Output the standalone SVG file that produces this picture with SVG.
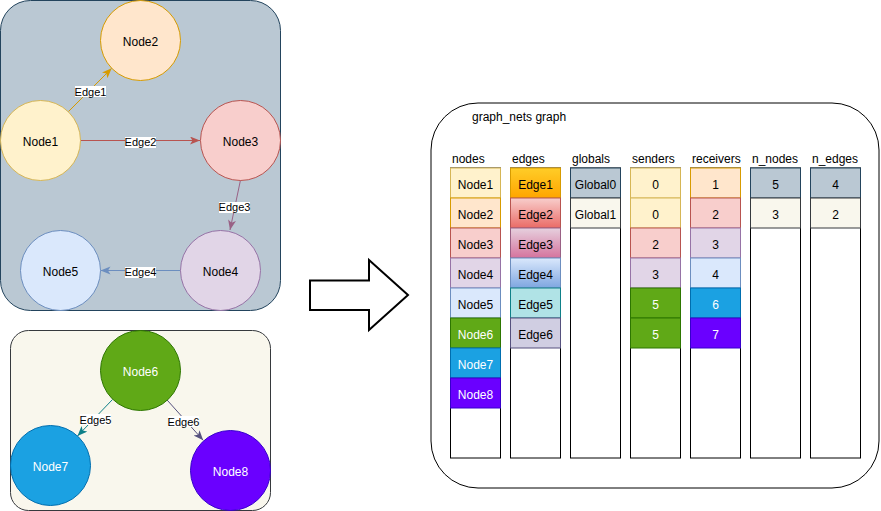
<svg xmlns="http://www.w3.org/2000/svg" width="881" height="511" viewBox="0 0 881 511">
<style>
text{font-family:"Liberation Sans",Arial,sans-serif;font-size:12px;fill:#000}
.c{text-anchor:middle}
.w{fill:#fff}
.el{font-size:11px;text-anchor:middle}
.lb{fill:#fff}
.e{fill:none;stroke-width:1}
.col{fill:#fff;stroke:#000;stroke-width:1}
</style>
<defs>
<linearGradient id="g1" x1="0" y1="0" x2="0" y2="1"><stop offset="0" stop-color="#ffcd28"/><stop offset="1" stop-color="#ffa500"/></linearGradient>
<linearGradient id="g2" x1="0" y1="0" x2="0" y2="1"><stop offset="0" stop-color="#f8cecc"/><stop offset="1" stop-color="#ea6b66"/></linearGradient>
<linearGradient id="g3" x1="0" y1="0" x2="0" y2="1"><stop offset="0" stop-color="#e6d0de"/><stop offset="1" stop-color="#d5739d"/></linearGradient>
<linearGradient id="g4" x1="0" y1="0" x2="0" y2="1"><stop offset="0" stop-color="#dae8fc"/><stop offset="1" stop-color="#7ea6e0"/></linearGradient>
<marker id="m1" markerUnits="userSpaceOnUse" markerWidth="11" markerHeight="9" refX="10" refY="4" orient="auto"><path d="M0,0 L10,4 L0,8 L2.5,4 z" fill="#d79b00"/></marker>
<marker id="m2" markerUnits="userSpaceOnUse" markerWidth="11" markerHeight="9" refX="10" refY="4" orient="auto"><path d="M0,0 L10,4 L0,8 L2.5,4 z" fill="#b85450"/></marker>
<marker id="m3" markerUnits="userSpaceOnUse" markerWidth="11" markerHeight="9" refX="10" refY="4" orient="auto"><path d="M0,0 L10,4 L0,8 L2.5,4 z" fill="#996185"/></marker>
<marker id="m4" markerUnits="userSpaceOnUse" markerWidth="11" markerHeight="9" refX="10" refY="4" orient="auto"><path d="M0,0 L10,4 L0,8 L2.5,4 z" fill="#6c8ebf"/></marker>
<marker id="m5" markerUnits="userSpaceOnUse" markerWidth="11" markerHeight="9" refX="10" refY="4" orient="auto"><path d="M0,0 L10,4 L0,8 L2.5,4 z" fill="#0e8088"/></marker>
<marker id="m6" markerUnits="userSpaceOnUse" markerWidth="11" markerHeight="9" refX="10" refY="4" orient="auto"><path d="M0,0 L10,4 L0,8 L2.5,4 z" fill="#56517e"/></marker>
</defs>

<g id="graph1">
<rect x="0.5" y="0.5" width="280" height="310" rx="30" fill="#bac8d3" stroke="#23445d"/>
</g>
<g id="graph2">
<rect x="10.5" y="330.5" width="260" height="180" rx="18" fill="#f9f7ed" stroke="#36393d"/>
</g>

<g id="connectors">
<line class="e" x1="68.3" y1="111.7" x2="111.7" y2="68.3" stroke="#d79b00" marker-end="url(#m1)"/>
<line class="e" x1="80" y1="140.5" x2="200" y2="140.5" stroke="#b85450" marker-end="url(#m2)"/>
<line class="e" x1="240.5" y1="180" x2="230" y2="230" stroke="#996185" marker-end="url(#m3)"/>
<line class="e" x1="180.5" y1="270.5" x2="100.5" y2="270.5" stroke="#6c8ebf" marker-end="url(#m4)"/>
<line class="e" x1="112.5" y1="399.5" x2="77.5" y2="436" stroke="#0e8088" marker-end="url(#m5)"/>
<line class="e" x1="166.8" y1="399.7" x2="203.2" y2="440.3" stroke="#56517e" marker-end="url(#m6)"/>
<rect class="lb" x="75" y="86" width="31" height="11"/><text class="el" x="90.5" y="95.5">Edge1</text>
<rect class="lb" x="125" y="137" width="31" height="11"/><text class="el" x="140.5" y="146">Edge2</text>
<rect class="lb" x="219" y="202" width="31" height="11"/><text class="el" x="234.5" y="211">Edge3</text>
<rect class="lb" x="125" y="267" width="31" height="11"/><text class="el" x="140.5" y="276">Edge4</text>
<rect class="lb" x="80" y="414" width="31" height="11"/><text class="el" x="95.5" y="423.5">Edge5</text>
<rect class="lb" x="168" y="416" width="31" height="11"/><text class="el" x="183.5" y="425.5">Edge6</text>
</g>

<g id="node1"><circle cx="40.5" cy="140.5" r="40" fill="#fff2cc" stroke="#d6b656"/><text class="c" x="40.5" y="146">Node1</text></g>
<g id="node2"><circle cx="140.5" cy="40.5" r="40" fill="#ffe6cc" stroke="#d79b00"/><text class="c" x="140.5" y="46">Node2</text></g>
<g id="node3"><circle cx="240.5" cy="140.5" r="40" fill="#f8cecc" stroke="#b85450"/><text class="c" x="240.5" y="146">Node3</text></g>
<g id="node4"><circle cx="220.5" cy="270.5" r="40" fill="#e1d5e7" stroke="#9673a6"/><text class="c" x="220.5" y="276">Node4</text></g>
<g id="node5"><circle cx="60.5" cy="270.5" r="40" fill="#dae8fc" stroke="#6c8ebf"/><text class="c" x="60.5" y="276">Node5</text></g>
<g id="node6"><circle cx="140.5" cy="370.5" r="40" fill="#60a917" stroke="#2d7600"/><text class="c w" x="140.5" y="376">Node6</text></g>
<g id="node7"><circle cx="50.5" cy="465.5" r="40" fill="#1ba1e2" stroke="#006eaf"/><text class="c w" x="50.5" y="471">Node7</text></g>
<g id="node8"><circle cx="230.5" cy="470.5" r="40" fill="#6a00ff" stroke="#3700cc"/><text class="c w" x="230.5" y="476">Node8</text></g>

<g id="arrow">
<polygon points="310,280.5 369,280.5 369,260 408,295 369,330 369,310 310,310" fill="#fff" stroke="#000" stroke-width="2"/>
</g>

<g id="graphnets">
<rect x="431" y="103" width="448" height="385" rx="47" fill="#fff" stroke="#000"/>
<text x="472" y="121">graph_nets graph</text>
<text x="452" y="163">nodes</text>
<text x="512" y="163">edges</text>
<text x="572" y="163">globals</text>
<text x="632" y="163">senders</text>
<text x="692" y="163">receivers</text>
<text x="752" y="163">n_nodes</text>
<text x="812" y="163">n_edges</text>
</g>

<g id="col-nodes">
<rect class="col" x="450.5" y="168" width="50" height="290"/>
<rect x="450.5" y="168" width="50" height="30" fill="#fff2cc" stroke="#d6b656"/><text class="c" x="475.5" y="189">Node1</text>
<rect x="450.5" y="198" width="50" height="30" fill="#ffe6cc" stroke="#d79b00"/><text class="c" x="475.5" y="219">Node2</text>
<rect x="450.5" y="228" width="50" height="30" fill="#f8cecc" stroke="#b85450"/><text class="c" x="475.5" y="249">Node3</text>
<rect x="450.5" y="258" width="50" height="30" fill="#e1d5e7" stroke="#9673a6"/><text class="c" x="475.5" y="279">Node4</text>
<rect x="450.5" y="288" width="50" height="30" fill="#dae8fc" stroke="#6c8ebf"/><text class="c" x="475.5" y="309">Node5</text>
<rect x="450.5" y="318" width="50" height="30" fill="#60a917" stroke="#2d7600"/><text class="c w" x="475.5" y="339">Node6</text>
<rect x="450.5" y="348" width="50" height="30" fill="#1ba1e2" stroke="#006eaf"/><text class="c w" x="475.5" y="369">Node7</text>
<rect x="450.5" y="378" width="50" height="30" fill="#6a00ff" stroke="#3700cc"/><text class="c w" x="475.5" y="399">Node8</text>
</g>

<g id="col-edges">
<rect class="col" x="510.5" y="168" width="50" height="290"/>
<rect x="510.5" y="168" width="50" height="30" fill="url(#g1)" stroke="#d79b00"/><text class="c" x="535.5" y="189">Edge1</text>
<rect x="510.5" y="198" width="50" height="30" fill="url(#g2)" stroke="#b85450"/><text class="c" x="535.5" y="219">Edge2</text>
<rect x="510.5" y="228" width="50" height="30" fill="url(#g3)" stroke="#996185"/><text class="c" x="535.5" y="249">Edge3</text>
<rect x="510.5" y="258" width="50" height="30" fill="url(#g4)" stroke="#6c8ebf"/><text class="c" x="535.5" y="279">Edge4</text>
<rect x="510.5" y="288" width="50" height="30" fill="#b0e3e6" stroke="#0e8088"/><text class="c" x="535.5" y="309">Edge5</text>
<rect x="510.5" y="318" width="50" height="30" fill="#d0cee2" stroke="#56517e"/><text class="c" x="535.5" y="339">Edge6</text>
</g>

<g id="col-globals">
<rect class="col" x="570.5" y="168" width="50" height="290"/>
<rect x="570.5" y="168" width="50" height="30" fill="#bac8d3" stroke="#23445d"/><text class="c" x="595.5" y="189">Global0</text>
<rect x="570.5" y="198" width="50" height="30" fill="#f9f7ed" stroke="#36393d"/><text class="c" x="595.5" y="219">Global1</text>
</g>

<g id="col-senders">
<rect class="col" x="630.5" y="168" width="50" height="290"/>
<rect x="630.5" y="168" width="50" height="30" fill="#fff2cc" stroke="#d6b656"/><text class="c" x="655.5" y="189">0</text>
<rect x="630.5" y="198" width="50" height="30" fill="#fff2cc" stroke="#d6b656"/><text class="c" x="655.5" y="219">0</text>
<rect x="630.5" y="228" width="50" height="30" fill="#f8cecc" stroke="#b85450"/><text class="c" x="655.5" y="249">2</text>
<rect x="630.5" y="258" width="50" height="30" fill="#e1d5e7" stroke="#9673a6"/><text class="c" x="655.5" y="279">3</text>
<rect x="630.5" y="288" width="50" height="30" fill="#60a917" stroke="#2d7600"/><text class="c w" x="655.5" y="309">5</text>
<rect x="630.5" y="318" width="50" height="30" fill="#60a917" stroke="#2d7600"/><text class="c w" x="655.5" y="339">5</text>
</g>

<g id="col-receivers">
<rect class="col" x="690.5" y="168" width="50" height="290"/>
<rect x="690.5" y="168" width="50" height="30" fill="#ffe6cc" stroke="#d79b00"/><text class="c" x="715.5" y="189">1</text>
<rect x="690.5" y="198" width="50" height="30" fill="#f8cecc" stroke="#b85450"/><text class="c" x="715.5" y="219">2</text>
<rect x="690.5" y="228" width="50" height="30" fill="#e1d5e7" stroke="#9673a6"/><text class="c" x="715.5" y="249">3</text>
<rect x="690.5" y="258" width="50" height="30" fill="#dae8fc" stroke="#6c8ebf"/><text class="c" x="715.5" y="279">4</text>
<rect x="690.5" y="288" width="50" height="30" fill="#1ba1e2" stroke="#006eaf"/><text class="c w" x="715.5" y="309">6</text>
<rect x="690.5" y="318" width="50" height="30" fill="#6a00ff" stroke="#3700cc"/><text class="c w" x="715.5" y="339">7</text>
</g>

<g id="col-n_nodes">
<rect class="col" x="750.5" y="168" width="50" height="290"/>
<rect x="750.5" y="168" width="50" height="30" fill="#bac8d3" stroke="#23445d"/><text class="c" x="775.5" y="189">5</text>
<rect x="750.5" y="198" width="50" height="30" fill="#f9f7ed" stroke="#36393d"/><text class="c" x="775.5" y="219">3</text>
</g>

<g id="col-n_edges">
<rect class="col" x="810.5" y="168" width="50" height="290"/>
<rect x="810.5" y="168" width="50" height="30" fill="#bac8d3" stroke="#23445d"/><text class="c" x="835.5" y="189">4</text>
<rect x="810.5" y="198" width="50" height="30" fill="#f9f7ed" stroke="#36393d"/><text class="c" x="835.5" y="219">2</text>
</g>
</svg>
